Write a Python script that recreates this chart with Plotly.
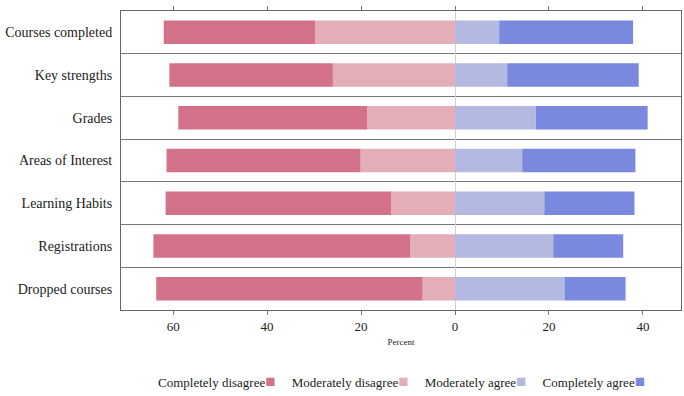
import plotly.graph_objects as go

categories = ["Courses completed", "Key strengths", "Grades", "Areas of Interest",
              "Learning Habits", "Registrations", "Dropped courses"]
completely_disagree = [32.2, 34.8, 40.2, 41.3, 48.0, 54.7, 56.7]
moderately_disagree = [29.8, 26.0, 18.7, 20.1, 13.6, 9.5, 6.9]
moderately_agree = [9.4, 11.1, 17.2, 14.3, 19.0, 20.9, 23.3]
completely_agree = [28.5, 28.0, 23.8, 24.1, 19.2, 14.9, 13.0]

series_names = ["Completely disagree", "Moderately disagree", "Moderately agree", "Completely agree"]
colors = ["#D27188", "#E3AEB8", "#B3B9E1", "#7A89DD"]

tick_vals = [-60, -40, -20, 0, 20, 40]
tick_text = ["60", "40", "20", "0", "20", "40"]

font_family = "Liberation Serif"

fig = go.Figure()
# negative side: closest to zero first
fig.add_trace(go.Bar(y=categories, x=[-v for v in moderately_disagree], orientation="h",
                     marker=dict(color=colors[1], line=dict(width=0)), width=0.55,
                     name=series_names[1], showlegend=False))
fig.add_trace(go.Bar(y=categories, x=[-v for v in completely_disagree], orientation="h",
                     marker=dict(color=colors[0], line=dict(width=0)), width=0.55,
                     name=series_names[0], showlegend=False))
fig.add_trace(go.Bar(y=categories, x=moderately_agree, orientation="h",
                     marker=dict(color=colors[2], line=dict(width=0)), width=0.55,
                     name=series_names[2], showlegend=False))
fig.add_trace(go.Bar(y=categories, x=completely_agree, orientation="h",
                     marker=dict(color=colors[3], line=dict(width=0)), width=0.55,
                     name=series_names[3], showlegend=False))

legend_html = "     ".join(
    f"{n}<span style='color:{c};font-size:17px'>\u25A0</span>" for n, c in zip(series_names, colors)
)

fig.update_layout(
    width=684, height=396,
    barmode="relative",
    plot_bgcolor="white", paper_bgcolor="white",
    margin=dict(l=121, r=3, t=11, b=86),
    font=dict(family=font_family, color="#222222"),
    xaxis=dict(range=[-71.1, 48.1], tickvals=tick_vals, ticktext=tick_text,
               ticks="outside", ticklen=4, tickcolor="#777777", mirror="allticks",
               showline=True, linecolor="#666666", linewidth=1,
               showgrid=False, zeroline=True, zerolinecolor="#D0D0D0", zerolinewidth=1,
               tickfont=dict(size=13, family=font_family, color="#222222"),
               title=dict(text="Percent", font=dict(size=9, family=font_family), standoff=6),
               layer="above traces", automargin=False),
    yaxis=dict(categoryorder="array", categoryarray=categories, autorange="reversed",
               showline=True, linecolor="#666666", linewidth=1, mirror=True,
               ticks="", tickson="boundaries", showgrid=True, gridcolor="#777777", gridwidth=1,
               tickfont=dict(size=14, family=font_family, color="#222222"),
               ticklabelstandoff=5, automargin=False),
    annotations=[dict(text=legend_html, xref="paper", yref="paper", x=0.5, y=-0.238,
                      xanchor="center", yanchor="middle", showarrow=False,
                      font=dict(size=13, family=font_family, color="#222222"))],
)

fig.write_html("out.html", config={"displayModeBar": False},
               post_script="document.body.style.margin='0';document.body.style.overflow='hidden';")
